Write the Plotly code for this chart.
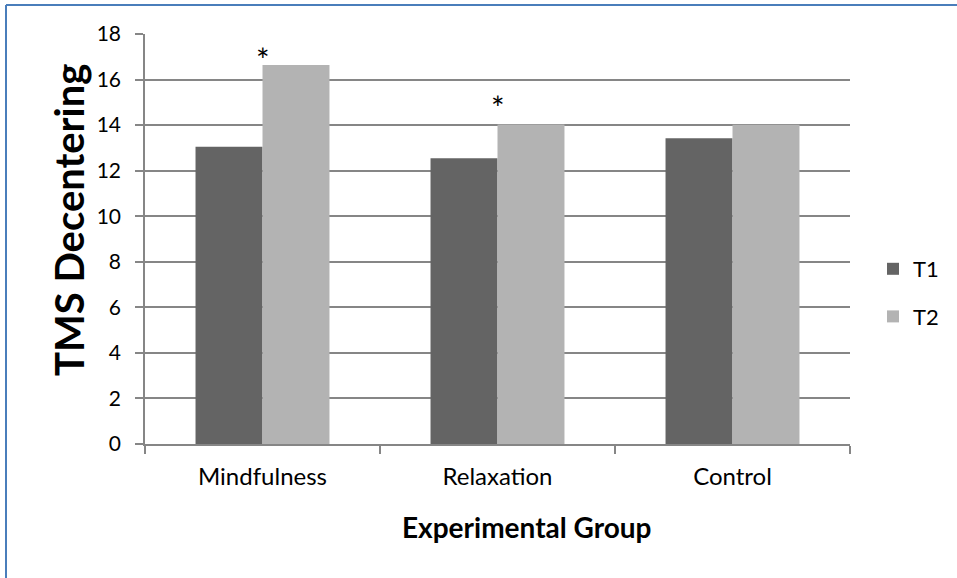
import plotly.graph_objects as go

groups = ["Mindfulness", "Relaxation", "Control"]
t1_values = [13.05, 12.55, 13.42]
t2_values = [16.64, 14.03, 14.02]
significant = ["Mindfulness", "Relaxation"]
y_ticks = [0, 2, 4, 6, 8, 10, 12, 14, 16, 18]

FONT = "Lato, Carlito, Calibri, sans-serif"
W, H = 957, 578
L, R, T, B = 145, 107, 34, 134
pw, ph = W - L - R, H - T - B

fig = go.Figure()
fig.add_trace(go.Bar(x=groups, y=t1_values, name="T1", marker_color="#646464",
                     marker_line_width=0, legendgroup="a"))
fig.add_trace(go.Bar(x=groups, y=t2_values, name="T2", marker_color="#B3B3B3",
                     marker_line_width=0, legendgroup="b"))

star_shift = {"Mindfulness": -16, "Relaxation": -5}
for g in significant:
    v = t2_values[groups.index(g)]
    fig.add_annotation(x=g, y=v, text="*", showarrow=False, yanchor="bottom",
                       yshift=star_shift[g], font=dict(family=FONT, size=32, color="#000000"))

# axis titles
fig.add_annotation(xref="paper", yref="paper", x=(526 - L) / pw, y=(H - B - 527) / ph,
                   text="<b>Experimental Group</b>", showarrow=False,
                   xanchor="center", yanchor="middle",
                   font=dict(family=FONT, size=28, color="#000000"))
fig.add_annotation(xref="paper", yref="paper", x=(69 - L) / pw, y=(H - B - 220) / ph,
                   text="<b>TMS Decentering</b>", showarrow=False, textangle=-90,
                   xanchor="center", yanchor="middle",
                   font=dict(family=FONT, size=40, color="#000000"))

# blue frame lines (left and top)
fig.add_shape(type="line", xref="paper", yref="paper",
              x0=(6 - L) / pw, x1=(6 - L) / pw, y0=1 + (T - 5) / ph, y1=-(B + 10) / ph,
              line=dict(color="#4A7EBB", width=2))
fig.add_shape(type="line", xref="paper", yref="paper",
              x0=(6 - L) / pw, x1=(W + 10 - L) / pw, y0=1 + (T - 5) / ph, y1=1 + (T - 5) / ph,
              line=dict(color="#4A7EBB", width=2))

fig.update_layout(
    width=W, height=H,
    margin=dict(l=L, r=R, t=T, b=B, autoexpand=False),
    paper_bgcolor="white", plot_bgcolor="white",
    barmode="group", bargap=0.43, bargroupgap=0,
    font=dict(family=FONT, color="#000000"),
    showlegend=True,
    legend=dict(x=(873 - L) / pw, y=(H - B - 293) / ph, xanchor="left", yanchor="middle",
                font=dict(family=FONT, size=22), tracegroupgap=16,
                bgcolor="rgba(0,0,0,0)"),
    xaxis=dict(
        type="category", tickson="boundaries", ticks="outside", ticklen=8,
        tickcolor="#868686", tickwidth=1.5,
        showline=True, linecolor="#868686", linewidth=1.5,
        tickfont=dict(family=FONT, size=24), ticklabelstandoff=10,
        showgrid=False, range=[-0.5, 2.5],
    ),
    yaxis=dict(
        range=[0, 18], tickvals=y_ticks, ticks="outside", ticklen=8,
        tickcolor="#868686", tickwidth=1.5,
        showline=True, linecolor="#868686", linewidth=1.5,
        showgrid=True, gridcolor="#868686", gridwidth=1.5,
        zeroline=False, ticklabelstandoff=10,
        tickfont=dict(family=FONT, size=21),
    ),
)

fig.write_html("out.html", config={"displayModeBar": False},
               post_script="document.body.style.margin='0';")
